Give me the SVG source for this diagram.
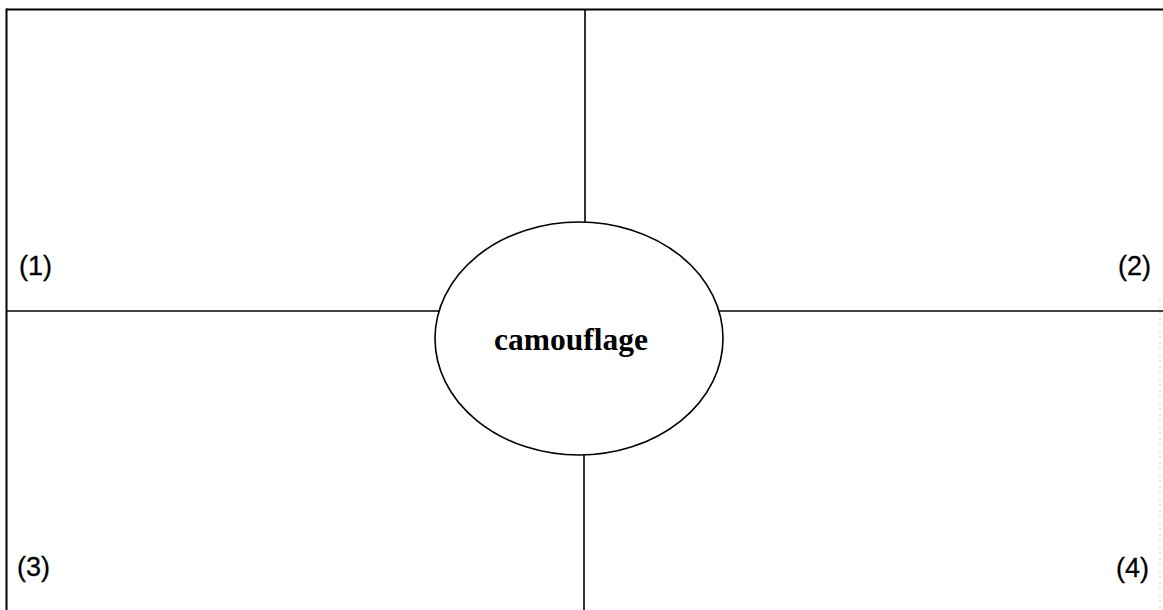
<svg xmlns="http://www.w3.org/2000/svg" width="1163" height="610" viewBox="0 0 1163 610">
<style>
.ln{stroke:#000;stroke-width:1.6;fill:none}
.bd{stroke:#000;stroke-width:2;fill:none}
.lab{font-family:"Liberation Sans",Arial,sans-serif;font-size:27px;fill:#000;stroke:#000;stroke-width:0.3}
.ctr{font-family:"Liberation Serif","Times New Roman",serif;font-size:31.5px;font-weight:bold;fill:#000}
</style>
<rect width="1163" height="610" fill="#fff"/>
<g id="connectors">
<line class="bd" x1="6" y1="9.5" x2="1163" y2="9.5"/>
<line class="bd" x1="6.5" y1="8.5" x2="6.5" y2="610"/>
<line class="ln" x1="585" y1="10" x2="585" y2="222"/>
<line class="ln" x1="584" y1="455" x2="584" y2="610"/>
<line class="ln" x1="6" y1="311" x2="440" y2="311"/>
<line class="ln" x1="718" y1="311" x2="1163" y2="311"/>
<line x1="1160" y1="300" x2="1160" y2="610" stroke="#bbb" stroke-width="0.8" stroke-dasharray="2,4"/>
</g>
<g id="q1"><text class="lab" x="19" y="275">(1)</text></g>
<g id="q2"><text class="lab" x="1151" y="275" text-anchor="end">(2)</text></g>
<g id="q3"><text class="lab" x="17" y="576">(3)</text></g>
<g id="q4"><text class="lab" x="1149" y="577" text-anchor="end">(4)</text></g>
<g id="center">
<ellipse class="ln" cx="579" cy="338.5" rx="144" ry="116.5" fill="#fff"/>
<text class="ctr" x="571" y="350" text-anchor="middle">camouflage</text>
</g>
</svg>
